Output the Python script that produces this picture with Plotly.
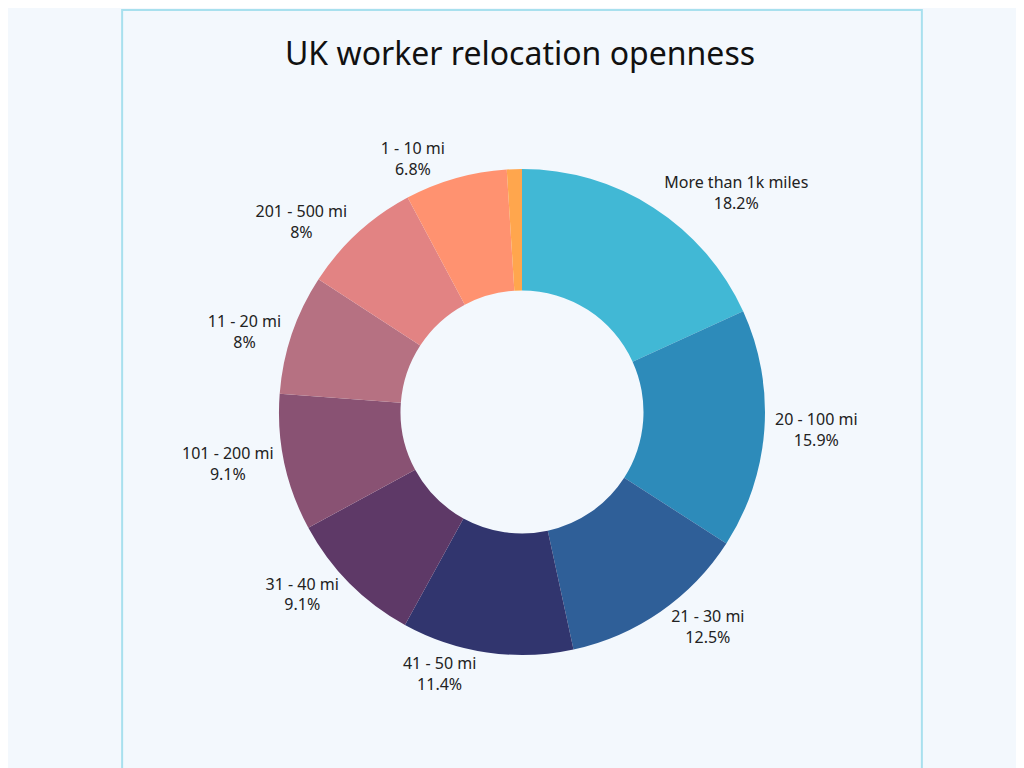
import plotly.graph_objects as go

labels = ["More than 1k miles", "20 - 100 mi", "21 - 30 mi", "41 - 50 mi", "31 - 40 mi",
          "101 - 200 mi", "11 - 20 mi", "201 - 500 mi", "1 - 10 mi", "Other"]
values = [18.2, 15.9, 12.5, 11.4, 9.1, 9.1, 8.0, 8.0, 6.8, 1.0]
pct_text = ["18.2%", "15.9%", "12.5%", "11.4%", "9.1%", "9.1%", "8%", "8%", "6.8%", ""]
colors = ["#41B8D5", "#2D8BBA", "#2F5F98", "#31356E", "#5E3967",
          "#895273", "#B67182", "#E28383", "#FF9270", "#FFA64D"]

texts = [f"{l}<br>{p}" if p else "" for l, p in zip(labels, pct_text)]

fig = go.Figure(go.Pie(
    labels=labels, values=values, text=texts, textinfo="text",
    textposition="outside", sort=False, direction="clockwise", rotation=0,
    hole=0.5, marker=dict(colors=colors, line=dict(width=0)),
    textfont=dict(family="Noto Sans", size=16, color="#222"),
    showlegend=False, hoverinfo="label+percent",
    domain=dict(x=[0, 1], y=[0, 1]),
))
fig.update_layout(
    width=1024, height=768,
    margin=dict(l=100, r=100, t=161, b=121),
    paper_bgcolor="#F3F8FD", plot_bgcolor="#F3F8FD",
    title=dict(text="UK worker relocation openness", x=0.5, y=0.94, xanchor="center", yanchor="middle",
               font=dict(family="Noto Sans", size=32, color="#111")),
    shapes=[dict(type="rect", xref="paper", yref="paper", x0=-0.119, x1=1.119, y0=-0.245, y1=1.327,
                 line=dict(color="#A8E0EE", width=2), fillcolor="rgba(0,0,0,0)")],
)
fig.write_html("out.html")
